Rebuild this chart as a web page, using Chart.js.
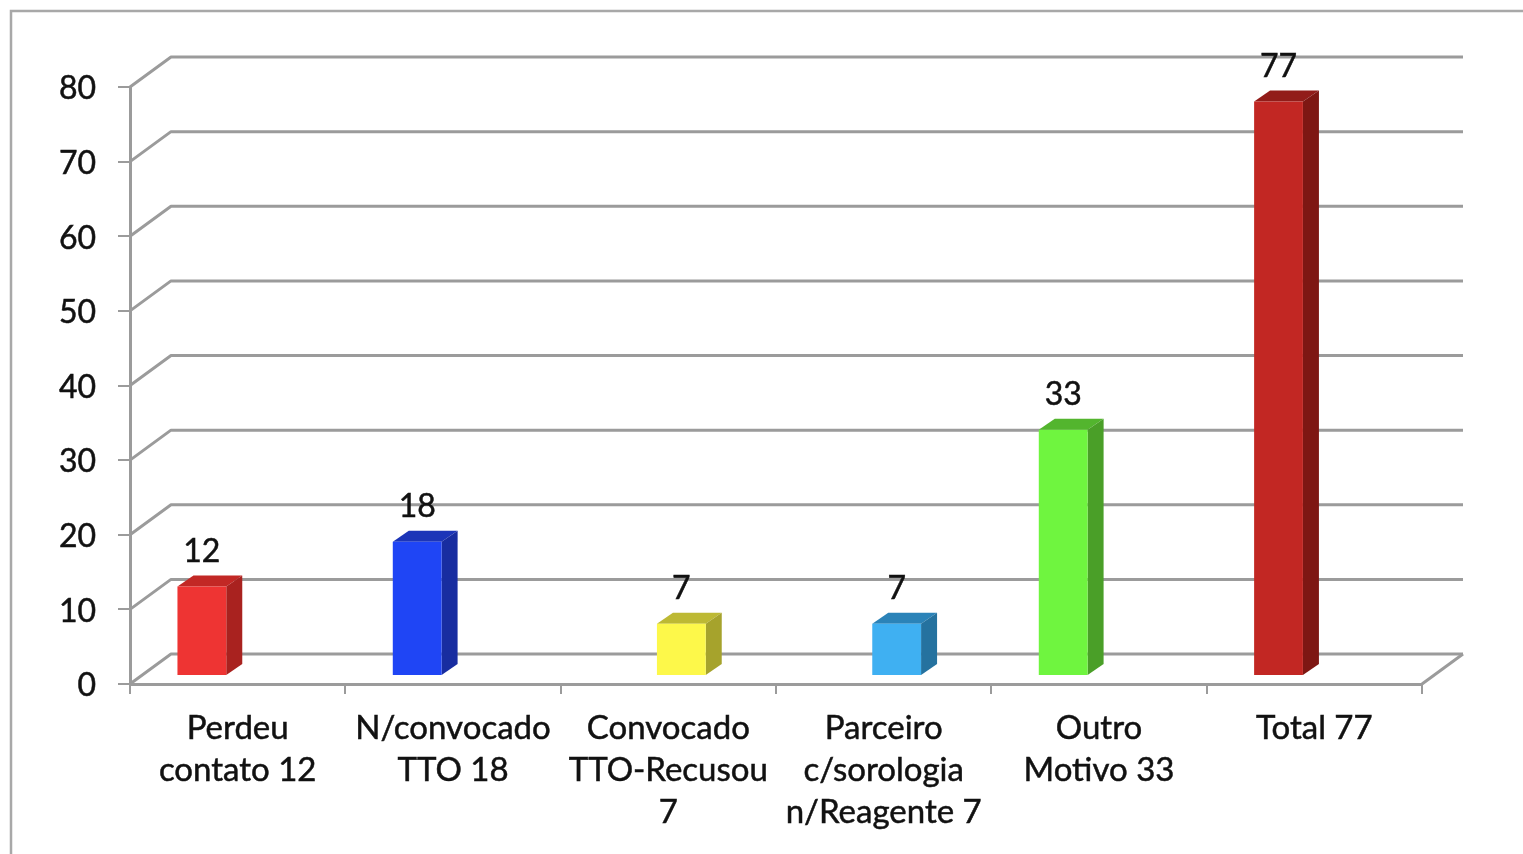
<!DOCTYPE html>
<html>
<head>
<meta charset="utf-8">
<title>Chart</title>
<script src="https://cdn.jsdelivr.net/npm/chart.js@4/dist/chart.umd.min.js"></script>
<style>
    html, body { margin: 0; padding: 0; background: #fff; overflow: hidden; }
    canvas { display: block; filter: blur(0.6px); }
</style>
</head>
<body>
<canvas id="myChart" width="1523" height="854"></canvas>
<script>
var categories = [
    ["Perdeu", "contato 12"],
    ["N/convocado", "TTO 18"],
    ["Convocado", "TTO-Recusou", "7"],
    ["Parceiro", "c/sorologia", "n/Reagente 7"],
    ["Outro", "Motivo 33"],
    "Total 77",
];
// the source chart has its bars in two different slots of each group
var seriesFirstSlot = [12, 18, null, null, 33, 77];
var seriesSecondSlot = [null, null, 7, 7, null, null];
var seriesThirdSlot = [null, null, null, null, null, null];
var yTicks = [0, 10, 20, 30, 40, 50, 60, 70, 80];

var frontColors = ["#ee3433", "#1f45f5", "#fdf84a", "#3fb0f2", "#6ff53f", "#c22723"];
var topColors = ["#c22825", "#1c35b8", "#bdb934", "#2b83b8", "#53b52e", "#921c19"];
var sideColors = ["#a9221f", "#182da0", "#a6a32c", "#25729f", "#4a9f28", "#7e1713"];

var gridColor = "#9b9b9b";
var fontName = "Lato, sans-serif";
var textColor = "#111111";

// 3D look: back wall offset, bar offset from the front plane, bar depth
var wallX = 41, wallY = -30;
var barX = 13, barY = -8;
var depthX = 16, depthY = -11;

function fillPoly(ctx, color, pts) {
    ctx.fillStyle = color;
    ctx.beginPath();
    ctx.moveTo(pts[0][0], pts[0][1]);
    for (var i = 1; i < pts.length; i++) {
        ctx.lineTo(pts[i][0], pts[i][1]);
    }
    ctx.closePath();
    ctx.fill();
}

function eachBar(chart, fn) {
    chart.data.datasets.forEach(function (ds, d) {
        chart.getDatasetMeta(d).data.forEach(function (bar, i) {
            if (ds.data[i] !== null) {
                fn(bar, i, ds.data[i]);
            }
        });
    });
}

var frame3d = {
    id: "frame3d",
    beforeDraw: function (chart) {
        var ctx = chart.ctx;
        ctx.save();
        ctx.strokeStyle = "#a8a8a8";
        ctx.lineWidth = 2.5;
        ctx.beginPath();
        ctx.moveTo(11, 854);
        ctx.lineTo(11, 11);
        ctx.lineTo(1523, 11);
        ctx.stroke();
        ctx.restore();
    },
    beforeDatasetsDraw: function (chart) {
        var ctx = chart.ctx;
        var area = chart.chartArea;
        var y = chart.scales.y;
        ctx.save();
        ctx.strokeStyle = gridColor;
        ctx.lineWidth = 3;
        ctx.lineJoin = "round";
        yTicks.forEach(function (t) {
            var py = y.getPixelForValue(t);
            ctx.beginPath();
            ctx.moveTo(area.left, py);
            ctx.lineTo(area.left + wallX, py + wallY);
            ctx.lineTo(area.right + wallX, py + wallY);
            ctx.stroke();
        });
        // right edge of the floor
        var floor = y.getPixelForValue(0);
        ctx.beginPath();
        ctx.moveTo(area.right, floor);
        ctx.lineTo(area.right + wallX, floor + wallY);
        ctx.stroke();
        ctx.restore();

        // top and side faces go under the bars
        ctx.save();
        ctx.translate(barX, barY);
        eachBar(chart, function (bar, i) {
            var l = bar.x - bar.width / 2;
            var r = bar.x + bar.width / 2;
            fillPoly(ctx, topColors[i], [[l, bar.y], [r, bar.y], [r + depthX, bar.y + depthY], [l + depthX, bar.y + depthY]]);
            fillPoly(ctx, sideColors[i], [[r, bar.y], [r + depthX, bar.y + depthY], [r + depthX, bar.base + depthY], [r, bar.base]]);
        });
        // kept until afterDatasetsDraw so the bars land on the same spot
    },
    afterDatasetsDraw: function (chart) {
        var ctx = chart.ctx;
        ctx.restore();
        ctx.save();
        ctx.fillStyle = textColor;
        ctx.strokeStyle = textColor;
        ctx.lineWidth = 0.5;
        ctx.font = "32px " + fontName;
        ctx.textAlign = "center";
        ctx.textBaseline = "middle";
        eachBar(chart, function (bar, i, value) {
            var lx = bar.x + barX;
            var ly = bar.y + barY - 35;
            ctx.fillText(String(value), lx, ly);
            ctx.strokeText(String(value), lx, ly);
        });
        ctx.restore();
    },
};

new Chart(document.getElementById("myChart").getContext("2d"), {
    type: "bar",
    data: {
        labels: categories,
        datasets: [
            { label: "A", data: seriesFirstSlot },
            { label: "B", data: seriesSecondSlot },
            { label: "C", data: seriesThirdSlot },
        ].map(function (ds) {
            ds.backgroundColor = frontColors;
            ds.borderWidth = 0;
            ds.barPercentage = 1;
            ds.categoryPercentage = 0.68;
            ds.clip = false;
            return ds;
        }),
    },
    options: {
        responsive: false,
        animation: false,
        layout: { padding: { top: 87, right: 101, left: 0, bottom: 0 } },
        plugins: {
            legend: { display: false },
            tooltip: { enabled: false },
        },
        scales: {
            x: {
                afterFit: function (scale) {
                    scale.height = 170;
                },
                border: { color: gridColor, width: 3 },
                grid: { color: gridColor, drawOnChartArea: false, tickLength: 10, lineWidth: 2 },
                ticks: {
                    color: textColor,
                    font: { family: fontName, size: 33, lineHeight: 1.28 },
                    textStrokeColor: textColor,
                    textStrokeWidth: 0.5,
                    maxRotation: 0,
                    autoSkip: false,
                    padding: 13,
                },
            },
            y: {
                min: 0,
                max: 80,
                afterFit: function (scale) {
                    scale.width = 130;
                },
                afterBuildTicks: function (scale) {
                    scale.ticks = yTicks.map(function (v) {
                        return { value: v };
                    });
                },
                border: { color: gridColor, width: 3 },
                grid: { color: gridColor, drawOnChartArea: false, tickLength: 12, lineWidth: 2 },
                ticks: {
                    color: textColor,
                    font: { family: fontName, size: 32 },
                    textStrokeColor: textColor,
                    textStrokeWidth: 0.5,
                    padding: 22,
                    labelOffset: 2,
                },
            },
        },
    },
    plugins: [frame3d],
});
</script>
</body>
</html>
